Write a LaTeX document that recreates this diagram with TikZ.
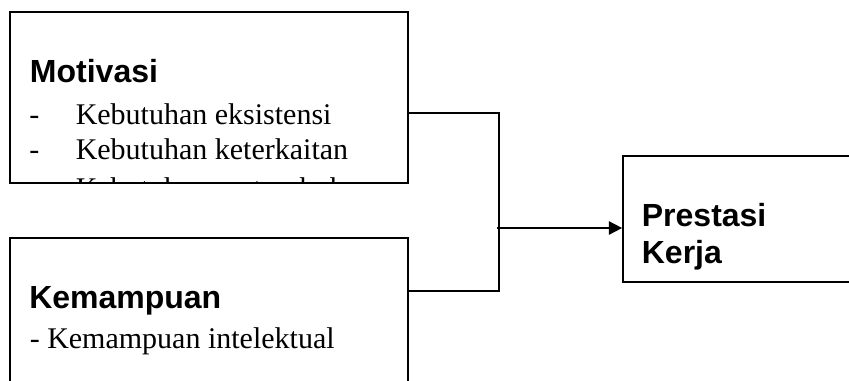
\documentclass[tikz,border=0pt]{standalone}
\usepackage{fontspec}
\setmainfont{Liberation Serif}
\setsansfont{Liberation Sans}
\usetikzlibrary{arrows.meta}

\tikzset{
  box/.style={draw=black, line width=1.3pt, rectangle, inner sep=0pt},
  head/.style={anchor=base west, inner sep=0pt, font=\sffamily\bfseries\fontsize{24}{28}\selectfont},
  item/.style={anchor=base west, inner sep=0pt, font=\rmfamily\fontsize{22.5}{26}\selectfont},
  link/.style={draw=black, line width=1.3pt},
  arrowlink/.style={link, -{Triangle[length=10pt, width=10pt]}}
}

\begin{document}
\begin{tikzpicture}[x=0.75pt, y=-0.75pt]
  % page frame
  \clip (0,0) rectangle (849,380);

  % boxes
  \node[box, minimum width=398*0.75pt, minimum height=171*0.75pt] (mot) at (209,97.5) {};
  \node[box, minimum width=398*0.75pt, minimum height=200*0.75pt] (kem) at (209,337.7) {};
  \node[box, minimum width=260*0.75pt, minimum height=126*0.75pt] (pk) at (753,219) {};

  % Motivasi box content, cut at the box border
  \node[head] (motT) at (29.7,82) {Motivasi};
  \begin{scope}
    \clip (mot.north west) rectangle ([yshift=0.75pt]mot.south east);
    \node[item] (m1d) at (29,124) {-};
    \node[item] (m1) at (75.5,124) {Kebutuhan eksistensi};
    \node[item] (m2d) at (29,159) {-};
    \node[item] (m2) at (75.5,159) {Kebutuhan keterkaitan};
    \node[item] (m3d) at (29,198.5) {-};
    \node[item] (m3) at (75.5,198.5) {Kebutuhan pertumbuhan};
  \end{scope}

  % Kemampuan box content
  \node[head] (kemT) at (29,308) {Kemampuan};
  \node[item] (k1) at (29.5,348) {- Kemampuan intelektual};

  % Prestasi Kerja box content
  \node[head] (pk1) at (641.6,226) {Prestasi};
  \node[head] (pk2) at (641.6,263) {Kerja};

  % connectors
  \coordinate (jt) at (499,113);
  \coordinate (jb) at (499,291);
  \coordinate (j) at (497,228);
  \draw[link] (mot.east |- jt) -- (jt) -- (jb) -- (kem.east |- jb);
  \draw[arrowlink] (j) -- (pk.west |- j);
\end{tikzpicture}
\end{document}
